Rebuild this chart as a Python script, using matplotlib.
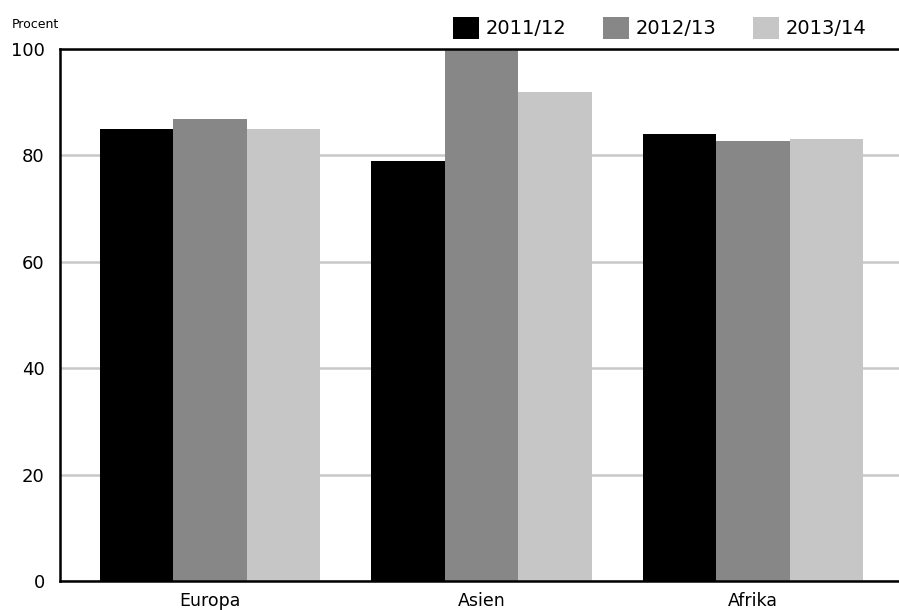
import matplotlib.pyplot as plt
import numpy as np

plt.rcParams['font.family'] = ['DejaVu Sans']

regions = ['Europa', 'Asien', 'Afrika']
years = ['2011/12', '2012/13', '2013/14']
v_2011 = [85, 79, 84]
v_2012 = [86.8, 100, 82.7]
v_2013 = [85, 92, 83.1]
colors = ['#000000', '#878787', '#c6c6c6']

fig = plt.figure(figsize=(8.99, 6.10), dpi=100)
ax = fig.add_axes([60 / 899, 29 / 610, 839 / 899, 532 / 610])

x = np.arange(len(regions))
w = 0.271
for i, (vals, lab) in enumerate(zip([v_2011, v_2012, v_2013], years)):
    ax.bar(x + (i - 1) * w, vals, w, color=colors[i], label=lab, zorder=3)

ax.set_ylim(0, 100)
ax.set_xlim(-0.5525, 2.538)
ax.set_yticks([0, 20, 40, 60, 80, 100])
ax.set_xticks(x)
ax.set_xticklabels(regions)
ax.tick_params(axis='y', length=0, pad=11, labelsize=13)
ax.tick_params(axis='x', length=0, pad=8, labelsize=12.5)
ax.yaxis.grid(True, color='#c8c8c8', linewidth=1.8, zorder=0)
ax.set_axisbelow(True)
for s in ['left', 'bottom', 'top']:
    ax.spines[s].set_linewidth(1.8)
    ax.spines[s].set_color('black')
    ax.spines[s].set_zorder(4)
ax.spines['right'].set_visible(False)

fig.text(12 / 899, 1 - 25 / 610, 'Procent', fontsize=9, va='center', ha='left')

fig.legend(loc='center left', bbox_to_anchor=(453 / 899, 1 - 28 / 610), ncol=3,
           frameon=False, fontsize=14, handlelength=1.34, handleheight=1.34,
           handletextpad=0.36, columnspacing=1.85, borderaxespad=0, borderpad=0)

fig.savefig('out.png', dpi=100)
